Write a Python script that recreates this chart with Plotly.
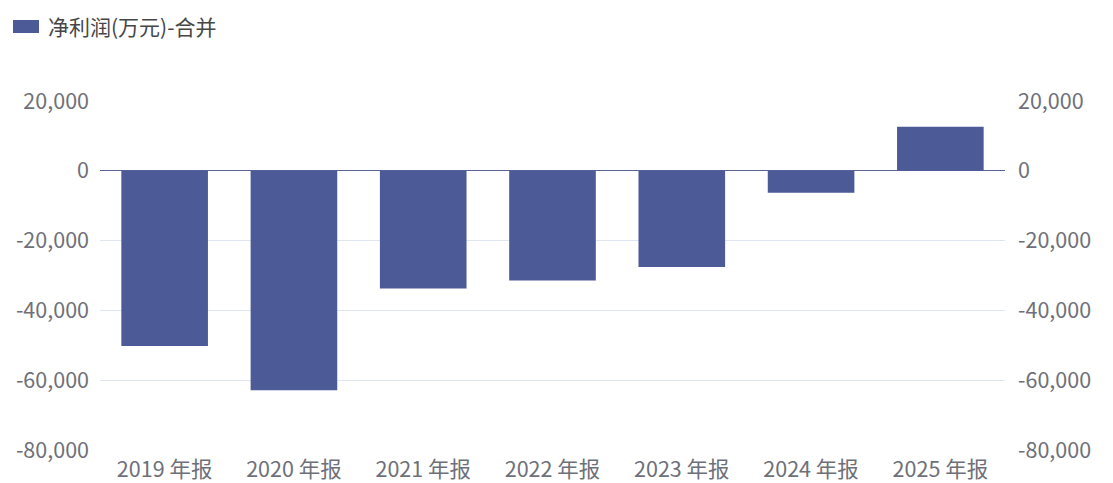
import plotly.graph_objects as go

categories = ["2019 年报", "2020 年报", "2021 年报", "2022 年报", "2023 年报", "2024 年报", "2025 年报"]
net_profit = [-50200, -62900, -33700, -31400, -27600, -6300, 12600]
series_name = "净利润(万元)-合并"
tick_vals = [-80000, -60000, -40000, -20000, 0, 20000]
tick_text = ["-80,000", "-60,000", "-40,000", "-20,000", "0", "20,000"]

bar_color = "#4d5a98"
font_family = "Noto Sans CJK SC, Noto Sans, sans-serif"
tick_color = "#6e7079"
fs = 21.5

fig = go.Figure()
fig.add_trace(go.Bar(x=categories, y=net_profit, name=series_name,
                     marker=dict(color=bar_color, line=dict(width=0)),
                     showlegend=False))
fig.add_trace(go.Scatter(x=categories, y=net_profit, yaxis="y2", mode="markers",
                         marker=dict(opacity=0), showlegend=False, hoverinfo="skip"))

fig.update_layout(
    width=1113, height=483,
    margin=dict(l=100, r=108, t=101, b=33),
    paper_bgcolor="white", plot_bgcolor="white",
    bargap=0.33,
    font=dict(family=font_family, size=fs, color=tick_color),
    xaxis=dict(showgrid=False, zeroline=False, showline=False, ticks="",
               automargin=False, ticklabelstandoff=4,
               tickfont=dict(size=fs, color=tick_color)),
    yaxis=dict(range=[-80000, 20000], tickvals=tick_vals, ticktext=tick_text,
               showgrid=True, gridcolor="#e0e6f1", gridwidth=1,
               zeroline=True, zerolinecolor="#5a6494", zerolinewidth=1,
               automargin=False,
               ticks="", ticklabelstandoff=10, tickfont=dict(size=fs, color=tick_color)),
    yaxis2=dict(range=[-80000, 20000], tickvals=tick_vals, ticktext=tick_text,
                overlaying="y", side="right", showgrid=False, zeroline=False,
                automargin=False,
                ticks="", ticklabelstandoff=12, tickfont=dict(size=fs, color=tick_color)),
)

fig.add_shape(type="rect", xref="paper", yref="paper",
              x0=(13-100)/905, x1=(39-100)/905, y0=1 + (101-33)/349, y1=1 + (101-20)/349,
              fillcolor=bar_color, line=dict(width=0))
fig.add_annotation(text=series_name, xref="paper", yref="paper",
                   x=(46-100)/905, y=1 + (101-26)/349, xanchor="left", yanchor="middle",
                   showarrow=False, font=dict(size=21, color="#464646", family=font_family))

fig.write_html("out.html")
